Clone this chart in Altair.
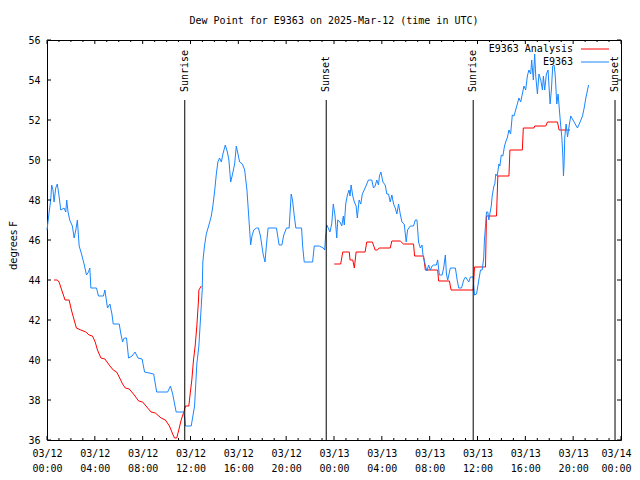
import altair as alt
import pandas as pd

TITLE = "Dew Point for E9363 on 2025-Mar-12 (time in UTC)"
START = "2025-03-12T00:00:00Z"
MONO = "DejaVu Sans Mono"

# Observations (hours since 03/12 00:00 UTC, dew point degF)
obs_hours = [0.0, 0.17, 0.31, 0.39, 0.50, 0.59, 0.73, 0.86, 1.01, 1.15, 1.43, 1.57, 1.65, 1.76, 1.90,
             2.12, 2.27, 2.41, 2.54, 2.69, 2.91, 3.10, 3.30, 3.47, 3.58, 3.67, 4.14, 4.30, 4.72, 4.84,
             5.06, 5.26, 5.43, 5.54, 6.04, 6.18, 6.32, 6.46, 6.65, 6.82, 7.11, 7.36, 7.61, 7.95, 8.16,
             8.92, 9.17, 10.09, 10.32, 10.51, 10.80, 11.41, 11.52, 11.58, 12.06, 12.34, 12.53, 12.70,
             12.81, 12.98, 13.03, 13.17, 13.32, 13.54, 13.74, 13.87, 14.01, 14.16, 14.29, 14.43, 14.58,
             14.71, 14.91, 15.08, 15.21, 15.36, 15.50, 15.69, 15.83, 15.97, 16.11, 16.34, 16.53, 16.72,
             16.89, 17.03, 17.14, 17.29, 17.51, 17.68, 17.85, 18.07, 18.23, 18.35, 18.49, 19.19, 19.41,
             19.64, 19.80, 20.03, 20.25, 20.42, 20.53, 20.67, 20.81, 21.29, 21.37, 21.51, 22.21, 22.35,
             22.77, 23.10, 23.22, 23.30, 23.39, 23.52, 23.66, 23.81, 23.94, 24.08, 24.23, 24.31, 24.50,
             24.65, 24.78, 24.86, 24.98, 25.12, 25.26, 25.34, 25.43, 25.57, 25.70, 25.85, 25.95, 26.10,
             26.24, 26.37, 26.60, 26.74, 26.88, 27.16, 27.30, 27.44, 27.58, 27.72, 27.80, 27.92, 28.09,
             28.28, 28.42, 28.56, 28.70, 28.84, 28.98, 29.12, 29.26, 29.40, 29.54, 29.68, 29.87, 30.04,
             30.15, 30.38, 30.65, 30.80, 30.94, 31.07, 31.22, 31.36, 31.44, 31.58, 31.69, 31.78, 31.91,
             32.06, 32.20, 32.33, 32.56, 32.67, 32.81, 33.04, 33.17, 33.31, 33.40, 33.51, 33.73, 34.15,
             34.30, 34.43, 34.66, 34.85, 35.00, 35.27, 35.41, 35.64, 35.75, 35.92, 36.11, 36.25, 36.39,
             36.52, 36.58, 36.67, 36.75, 36.86, 36.95, 37.03, 37.15, 37.23, 37.37, 37.45, 37.53, 37.65,
             37.79, 37.87, 37.99, 38.12, 38.26, 38.41, 38.49, 38.63, 38.77, 38.91, 39.05, 39.19, 39.33,
             39.46, 39.61, 39.75, 39.88, 40.03, 40.17, 40.30, 40.45, 40.53, 40.67, 40.78, 40.87, 41.01,
             41.14, 41.29, 41.43, 41.51, 41.62, 41.76, 41.90, 42.07, 42.18, 42.29, 42.40, 42.49, 42.54,
             42.63, 42.74, 42.85, 42.96, 43.05, 43.13, 43.19, 43.24, 43.30, 43.41, 43.53, 43.66, 43.80,
             44.08, 44.36, 44.58, 44.78, 44.92, 45.06, 45.20, 45.29]
obs_dewpt = [46.5, 47.35, 48.0, 48.75, 48.5, 47.9, 48.6, 48.8, 48.2, 47.5, 47.6, 47.4, 48.0, 47.4, 47.0,
             46.7, 46.1, 46.5, 47.0, 45.7, 45.25, 44.8, 44.25, 44.4, 44.6, 43.6, 43.6, 43.2, 43.2, 43.5,
             42.6, 42.8, 42.3, 41.8, 41.8, 41.3, 40.9, 41.1, 41.1, 40.1, 40.2, 40.4, 40.1, 40.05, 39.4,
             39.3, 38.4, 38.4, 38.7, 38.3, 37.4, 37.4, 37.1, 36.7, 36.7, 37.7, 39.8, 40.7,
             41.8, 43.5, 44.9, 45.7, 46.3, 46.75, 47.2, 47.7, 48.4, 49.3, 49.9, 50.1, 49.9,
             50.3, 50.75, 50.4, 50.0, 48.9, 49.25, 49.8, 50.7, 50.3, 49.9, 49.8, 49.5, 48.5,
             47.0, 45.75, 46.2, 46.5, 46.6, 46.6, 46.2, 45.3, 44.9, 45.75, 46.6, 46.6, 45.75,
             45.75, 46.25, 46.6, 46.6, 48.3, 48.0, 47.25, 46.6, 46.6, 45.75, 44.9, 44.9, 45.7,
             45.7, 45.6, 45.5, 46.2, 46.75, 46.6, 46.4, 46.8, 47.8, 47.25, 46.1, 47.0, 46.9,
             46.7, 47.2, 46.75, 47.8, 48.25, 48.5, 48.2, 48.75, 48.2, 47.9, 47.7, 47.1, 48.0,
             47.8, 48.3, 48.6, 48.8, 49.0, 49.0, 48.6, 48.7, 49.0, 48.75, 49.2, 49.4, 48.9,
             48.75, 48.3, 48.3, 47.9, 48.25, 47.8, 47.6, 47.3, 47.8, 47.3, 46.9, 46.8, 45.9,
             46.5, 46.7, 46.7, 47.0, 47.0, 45.9, 45.6, 45.75, 45.25, 44.9, 44.6, 44.45, 44.75,
             44.5, 44.7, 44.75, 44.75, 45.0, 44.25, 44.25, 44.6, 45.25, 44.3, 44.0, 44.6, 44.6,
             44.0, 43.6, 43.6, 44.0, 44.15, 43.9, 44.15, 44.15, 43.25, 43.3, 44.0, 44.5, 44.5,
             45.1, 46.0, 46.7, 47.4, 47.4, 47.0, 47.3, 47.7, 48.2, 48.7, 48.8, 49.3, 49.2,
             49.8, 49.7, 50.25, 50.2, 50.7, 51.0, 51.1, 51.5, 51.3, 52.25, 52.2, 52.5, 52.8,
             53.1, 52.9, 53.3, 53.7, 53.5, 54.2, 54.5, 54.3, 55.0, 54.0, 55.3, 54.2, 53.3,
             54.3, 54.0, 53.5, 54.2, 53.5, 54.3, 54.5, 52.8, 53.5, 54.7, 54.75, 54.3, 53.8,
             52.8, 53.3, 52.5, 51.7, 51.15, 50.3, 49.2, 49.8, 51.15, 51.8, 51.15, 51.7, 52.2,
             51.9, 51.6, 51.9, 52.2, 52.6, 53.1, 53.5, 53.75]

# Analysis, two pieces (gap between them)
ana1_hours = [0.59, 0.86, 1.01, 1.23, 1.51, 1.85, 2.04, 2.27, 2.46, 2.83, 3.25, 3.52, 3.80, 4.03, 4.22,
              4.51, 4.84, 5.20, 5.54, 5.82, 6.04, 6.32, 6.55, 6.88, 7.30, 7.66, 8.00, 8.28, 8.70, 9.06,
              9.54, 9.90, 10.24, 10.51, 10.66, 10.85, 11.02, 11.22, 11.44, 11.58, 11.86, 11.97, 12.11,
              12.25, 12.39, 12.53, 12.67, 12.70, 12.90]
ana1_dewpt = [44.0, 44.0, 43.9, 43.5, 43.0, 43.0, 42.5, 42.0, 41.6, 41.5, 41.4, 41.25, 41.2, 40.9, 40.5,
              40.1, 40.05, 39.75, 39.5, 39.4, 39.15, 38.8, 38.6, 38.55, 38.25, 37.95, 37.9, 37.7, 37.4, 37.35,
              37.1, 37.0, 36.7, 36.3, 36.1, 36.1, 36.5, 37.0, 37.4, 37.7, 37.7, 38.3, 39.0,
              40.0, 40.7, 41.7, 43.0, 43.5, 43.7]
ana2_hours = [24.02, 24.56, 24.73, 25.28, 25.34, 25.57, 25.70, 25.85, 26.60, 26.74, 27.21, 27.44, 27.63,
              27.78, 28.70, 28.84, 29.54, 29.81, 30.65, 30.74, 31.49, 31.64, 32.67, 32.75, 33.65, 33.79,
              35.64, 35.75, 36.67, 36.75, 37.59, 37.70, 38.63, 38.71, 39.75, 39.83, 40.72, 40.78, 41.71,
              41.85, 42.69, 42.82, 43.74]
ana2_dewpt = [44.8, 44.8, 45.4, 45.4, 45.0, 45.0, 44.6, 45.4, 45.4, 45.9, 45.9, 45.5, 45.5,
              45.6, 45.6, 45.95, 45.95, 45.8, 45.8, 45.2, 45.2, 44.5, 44.5, 43.95, 43.95, 43.5,
              43.5, 44.65, 44.65, 47.2, 47.2, 49.2, 49.2, 50.5, 50.5, 51.6, 51.6, 51.7, 51.7,
              51.9, 51.9, 51.5, 51.5]

event_hours = [11.52, 23.35, 35.64, 47.50]
event_labels = ["Sunrise", "Sunset", "Sunrise", "Sunset"]

x_tick_hours = list(range(0, 49, 4))
x_minor_hours = [h for h in range(0, 49) if h % 4]
y_ticks = list(range(36, 57, 2))

series_names = ["E9363 Analysis", "E9363"]
series_colors = ["#ff0000", "#1a86ff"]

t0 = pd.Timestamp(START).value // 10**6


def ms(h):
    return int(t0 + round(h * 3600000))


obs = pd.DataFrame({"t": [ms(h) for h in obs_hours], "v": obs_dewpt,
                    "series": "E9363", "seg": 0})
ana = pd.concat([
    pd.DataFrame({"t": [ms(h) for h in ana1_hours], "v": ana1_dewpt, "series": "E9363 Analysis", "seg": 1}),
    pd.DataFrame({"t": [ms(h) for h in ana2_hours], "v": ana2_dewpt, "series": "E9363 Analysis", "seg": 2}),
])
lines_df = pd.concat([ana, obs], ignore_index=True)
lines_df["order"] = range(len(lines_df))

events = pd.DataFrame({"t": [ms(h) for h in event_hours], "label": event_labels})
xmaj = pd.DataFrame({"t": [ms(h) for h in x_tick_hours]})
xmin = pd.DataFrame({"t": [ms(h) for h in x_minor_hours]})
ytk = pd.DataFrame({"v": y_ticks})
legend_df = pd.DataFrame({"series": series_names, "row": [0, 1]})

W, H = 574, 400

xscale = alt.Scale(type="utc", domain=[ms(0), ms(48)])
yscale = alt.Scale(domain=[36, 56], nice=False, zero=False)

x_axis = alt.Axis(
    values=[ms(h) for h in x_tick_hours], title=None, labelFlush=False,
    labelExpr="[utcFormat(datum.value, '%m/%d'), utcFormat(datum.value, '%H:%M')]",
    labelOffset=alt.ExprRef(f"datum.value >= {ms(48)} ? -5 : 0"),
    labelPadding=8, labelLineHeight=15, labelBaseline="top", labelOverlap=False)
y_axis = alt.Axis(
    values=y_ticks, title="degrees F", labelPadding=7, labelOverlap=False,
    titleFont="DejaVu Sans", titleFontSize=10, titleFontWeight="normal", titleColor="black",
    titleAngle=270, titleX=-34, titleY=205, titleAlign="center", titleBaseline="middle")

xa = alt.X("t:T", scale=xscale, axis=x_axis)
ya = alt.Y("v:Q", scale=yscale, axis=y_axis)

lines = alt.Chart(lines_df).mark_line(strokeWidth=1).encode(
    x=xa, y=ya,
    color=alt.Color("series:N", scale=alt.Scale(domain=series_names, range=series_colors), legend=None),
    detail="seg:N", order="order:Q")

ev_rule = alt.Chart(events).mark_rule(color="black", strokeWidth=1).encode(
    x=xa, y=alt.value(60), y2=alt.value(H))
ev_text = alt.Chart(events).mark_text(angle=270, align="left", baseline="middle",
                                      font=MONO, fontSize=10, color="black").encode(
    x=xa, y=alt.value(52), text="label:N")

xmaj_b = alt.Chart(xmaj).mark_rule(color="black").encode(x=xa, y=alt.value(H), y2=alt.value(H - 4))
xmaj_t = alt.Chart(xmaj).mark_rule(color="black").encode(x=xa, y=alt.value(0), y2=alt.value(4))
xmin_b = alt.Chart(xmin).mark_rule(color="black").encode(x=xa, y=alt.value(H), y2=alt.value(H - 2))
xmin_t = alt.Chart(xmin).mark_rule(color="black").encode(x=xa, y=alt.value(0), y2=alt.value(2))
y_l = alt.Chart(ytk).mark_rule(color="black").encode(y=ya, x=alt.value(0), x2=alt.value(4))
y_r = alt.Chart(ytk).mark_rule(color="black").encode(y=ya, x=alt.value(W), x2=alt.value(W - 4))

leg = []
for i, (name, col) in enumerate(zip(series_names, series_colors)):
    yy = 9 + 13 * i
    one = legend_df[legend_df["series"] == name]
    leg.append(alt.Chart(one).mark_text(align="right", baseline="middle",
                                        font=MONO, fontSize=10, color="black").encode(
        x=alt.value(526), y=alt.value(yy), text="series:N"))
    leg.append(alt.Chart(one).mark_rule(color=col, strokeWidth=1).encode(
        x=alt.value(534), x2=alt.value(562), y=alt.value(yy)))

chart = alt.layer(
    lines, ev_rule, ev_text, xmaj_b, xmaj_t, xmin_b, xmin_t, y_l, y_r, *leg
).properties(
    width=W, height=H,
    title=alt.Title(TITLE, font=MONO, fontSize=10, fontWeight="normal", anchor="middle",
                    offset=9, color="black"),
    padding={"left": 39, "top": 32, "right": 11, "bottom": 32},
    autosize=alt.AutoSizeParams(type="none"),
).configure_view(stroke="black", strokeWidth=1).configure_axis(
    grid=False, domain=False, ticks=False, labelFont=MONO, labelFontSize=10, labelColor="black"
)

chart.save("out.html", embed_options={"renderer": "svg", "actions": False})
